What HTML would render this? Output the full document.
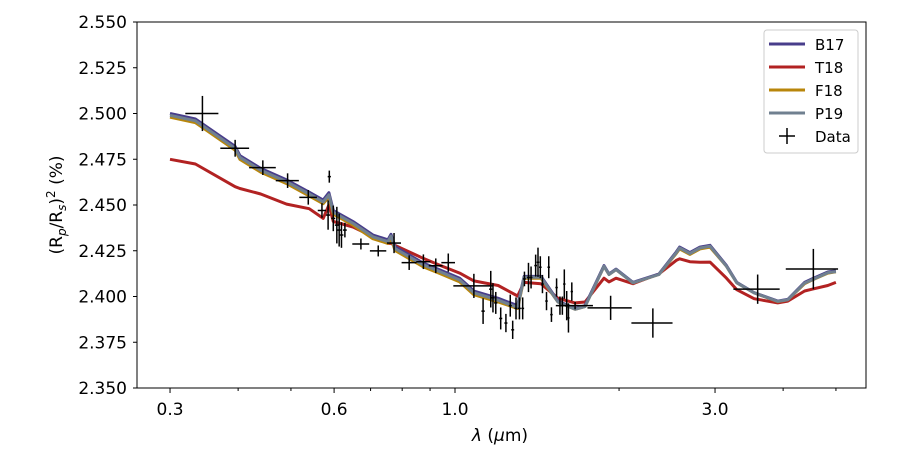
<!DOCTYPE html>
<html><head><meta charset="utf-8"><style>
html,body{margin:0;padding:0;background:#fff;}
svg{display:block;font-family:"DejaVu Sans","Liberation Sans",sans-serif;}
</style></head><body>
<svg id="chart" width="913" height="457" viewBox="0 0 913 457" xmlns="http://www.w3.org/2000/svg">
<g id="axes"></g>
<g id="series"></g>
<g id="points"></g>
<rect x="137" y="22" width="729" height="366" fill="none" stroke="#000" stroke-width="1"/>
<text x="500" y="441" font-size="17" text-anchor="middle"><tspan font-style="italic">λ</tspan> (<tspan font-style="italic">μ</tspan>m)</text>
<text transform="translate(62,205) rotate(-90)" font-size="17" text-anchor="middle">(R<tspan font-size="12" dy="4" font-style="italic">p</tspan><tspan dy="-4">/R</tspan><tspan font-size="12" dy="4" font-style="italic">s</tspan><tspan dy="-4">)</tspan><tspan font-size="12" dy="-7">2</tspan><tspan dy="7"> (%)</tspan></text>
<g>
<rect x="764" y="30" width="94" height="123" rx="3" fill="#fff" stroke="#ccc"/>
<line x1="769" y1="44" x2="805" y2="44" stroke="#483d8b" stroke-width="3"/>
<text x="815" y="50" font-size="15">B17</text>
<line x1="769" y1="67" x2="805" y2="67" stroke="#b22222" stroke-width="3"/>
<text x="815" y="73" font-size="15">T18</text>
<line x1="769" y1="90" x2="805" y2="90" stroke="#b8860b" stroke-width="3"/>
<text x="815" y="96" font-size="15">F18</text>
<line x1="769" y1="113" x2="805" y2="113" stroke="#708090" stroke-width="3"/>
<text x="815" y="119" font-size="15">P19</text>
<line x1="779" y1="136" x2="795" y2="136" stroke="#000" stroke-width="1.5"/>
<line x1="787" y1="128" x2="787" y2="144" stroke="#000" stroke-width="1.5"/>
<text x="815" y="142" font-size="15">Data</text>
</g>
</svg>
<script>
const modelLam=[0.30,0.334,0.395,0.403,0.44,0.491,0.54,0.573,0.587,0.598,0.65,0.707,0.753,0.763,0.776,0.874,0.939,1.02,1.083,1.20,1.303,1.339,1.438,1.545,1.661,1.732,1.877,1.917,1.974,2.121,2.367,2.546,2.583,2.698,2.815,2.937,3.149,3.289,3.539,3.91,4.08,4.38,4.52,4.83,5.0];
const b17=[2.500,2.497,2.482,2.477,2.470,2.4637,2.457,2.4527,2.4567,2.447,2.441,2.4336,2.431,2.434,2.4272,2.4183,2.4145,2.410,2.403,2.399,2.395,2.411,2.411,2.3975,2.3934,2.395,2.4169,2.4123,2.415,2.4077,2.4123,2.4243,2.427,2.424,2.427,2.428,2.4169,2.4077,2.4021,2.3975,2.3984,2.4077,2.4096,2.4134,2.414];
const t18=[2.475,2.4724,2.460,2.459,2.456,2.4505,2.448,2.4427,2.450,2.441,2.438,2.4328,2.429,2.429,2.428,2.4209,2.417,2.4128,2.4085,2.406,2.4003,2.4077,2.407,2.399,2.3965,2.397,2.410,2.408,2.410,2.407,2.4123,2.4197,2.4206,2.419,2.4187,2.4188,2.410,2.4037,2.3988,2.3965,2.3975,2.403,2.404,2.406,2.4077];
const p19=[2.499,2.496,2.481,2.476,2.469,2.4627,2.456,2.4517,2.4555,2.446,2.440,2.4326,2.430,2.433,2.4262,2.4173,2.4135,2.409,2.402,2.398,2.394,2.4105,2.4105,2.397,2.393,2.3945,2.4165,2.412,2.4147,2.4075,2.412,2.4238,2.4265,2.4235,2.4265,2.4275,2.4165,2.4075,2.402,2.3973,2.3982,2.4073,2.4092,2.413,2.4136];
const f18=[2.498,2.495,2.480,2.475,2.468,2.4617,2.455,2.4507,2.4545,2.445,2.439,2.4316,2.429,2.432,2.4252,2.4163,2.4125,2.408,2.401,2.397,2.3935,2.410,2.410,2.397,2.393,2.3945,2.4165,2.412,2.4147,2.4075,2.412,2.4235,2.426,2.423,2.426,2.427,2.4165,2.4075,2.402,2.3972,2.3982,2.407,2.409,2.4128,2.4135];
const obsLam=[0.344,0.395,0.444,0.493,0.538,0.588,0.570,0.585,0.598,0.607,0.613,0.619,0.628,0.672,0.723,0.773,0.824,0.875,0.922,0.972,1.083,1.126,1.163,1.174,1.188,1.213,1.240,1.276,1.263,1.294,1.313,1.331,1.341,1.364,1.379,1.406,1.420,1.434,1.447,1.472,1.486,1.503,1.536,1.558,1.574,1.587,1.603,1.615,1.638,1.661,1.930,2.307,3.592,4.545];
const obsLamErr=[0.024,0.024,0.025,0.024,0.02,0.004,0.01,0.005,0.005,0.005,0.005,0.005,0.005,0.024,0.025,0.023,0.026,0.026,0.027,0.028,0.09,0.008,0.008,0.008,0.008,0.008,0.008,0.008,0.008,0.008,0.008,0.008,0.008,0.008,0.008,0.008,0.008,0.008,0.008,0.008,0.008,0.008,0.008,0.008,0.008,0.008,0.008,0.008,0.008,0.13,0.18,0.2,0.35,0.5];
const obsVal=[2.500,2.481,2.4704,2.4633,2.4542,2.4655,2.447,2.4445,2.4427,2.439,2.4363,2.4336,2.4363,2.4287,2.4249,2.4292,2.4185,2.419,2.4168,2.4185,2.4058,2.392,2.404,2.3993,2.3965,2.388,2.3855,2.3818,2.395,2.3935,2.3935,2.3935,2.4096,2.4104,2.4104,2.4169,2.4187,2.416,2.4068,2.3975,2.416,2.3901,2.4049,2.395,2.395,2.4068,2.395,2.3883,2.4027,2.395,2.3938,2.3855,2.404,2.415];
const obsErr=[0.0096,0.0046,0.004,0.004,0.004,0.0033,0.004,0.008,0.007,0.01,0.009,0.007,0.004,0.003,0.003,0.0055,0.004,0.004,0.004,0.005,0.0066,0.007,0.010,0.008,0.006,0.006,0.005,0.005,0.006,0.006,0.006,0.006,0.004,0.008,0.006,0.006,0.008,0.006,0.005,0.005,0.006,0.004,0.005,0.005,0.005,0.008,0.008,0.008,0.005,0.002,0.0066,0.008,0.008,0.011];
const yTicks=[2.350,2.375,2.400,2.425,2.450,2.475,2.500,2.525,2.550];
const xMajor=[0.3,0.6,1.0,3.0];
const xMajorLabels=["0.3","0.6","1.0","3.0"];
const xMinor=[0.4,0.5,0.7,0.8,0.9,2,4,5];

const NS="http://www.w3.org/2000/svg";
function X(l){return 455+545*Math.log10(l);}
function Y(v){return 388-(v-2.35)*1830;}
function mk(tag,attrs,parent){const e=document.createElementNS(NS,tag);for(const k in attrs)e.setAttribute(k,attrs[k]);parent.appendChild(e);return e;}
const axes=document.getElementById('axes');
yTicks.forEach((t,i)=>{
  const l=mk('line',{x1:133,x2:137,y1:Y(t),y2:Y(t),stroke:'#000'},axes);
  
  
  const tx=mk('text',{x:127,y:Y(t)+6,'font-size':17,'text-anchor':'end'},axes);
  tx.textContent=t.toFixed(3);
  
  
});
xMajor.forEach((t,i)=>{
  const l=mk('line',{x1:X(t),x2:X(t),y1:388,y2:393,stroke:'#000'},axes);
  
  
  const tx=mk('text',{x:X(t),y:415,'font-size':17,'text-anchor':'middle'},axes);
  tx.textContent=xMajorLabels[i];
  
  
});
xMinor.forEach(t=>{
  const l=mk('line',{x1:X(t),x2:X(t),y1:388,y2:391,stroke:'#000'},axes);
  
  
});
const series=document.getElementById('series');
[[t18,'#b22222','t18-line'],[f18,'#b8860b','f18-line'],[b17,'#483d8b','b17-line'],[p19,'#708090','p19-line']].forEach(s=>{
  const d=modelLam.map((l,i)=>(i?'L':'M')+X(l).toFixed(1)+' '+Y(s[0][i]).toFixed(1)).join(' ');
  const p=mk('path',{d:d,fill:'none',stroke:s[1],'stroke-width':3,'stroke-linejoin':'round'},series);
  
  
});
const pts=document.getElementById('points');
obsLam.forEach((l,i)=>{
  const g=mk('g',{stroke:'#000','stroke-width':1.5},pts);
  
  
  mk('line',{x1:X(l-obsLamErr[i]),x2:X(l+obsLamErr[i]),y1:Y(obsVal[i]),y2:Y(obsVal[i])},g);
  mk('line',{x1:X(l),x2:X(l),y1:Y(obsVal[i]-obsErr[i]),y2:Y(obsVal[i]+obsErr[i])},g);
});
</script>
</body></html>
